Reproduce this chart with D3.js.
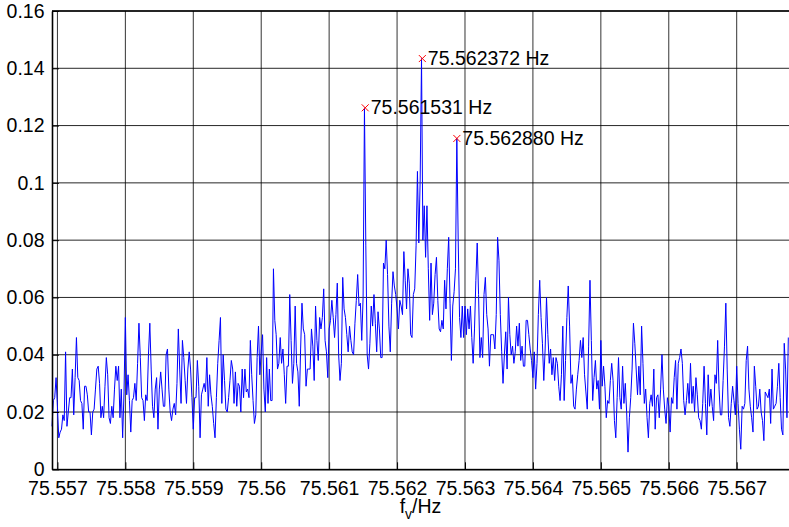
<!DOCTYPE html>
<html>
<head>
<meta charset="utf-8">
<script src="https://cdn.jsdelivr.net/npm/d3@7"></script>
<style>
  html, body { margin: 0; padding: 0; background: #fff; }
  svg { display: block; font-family: "Liberation Sans", Arial, Helvetica, sans-serif; }
</style>
</head>
<body>
<script>
// spectrum bins: f = fStart + i * fStep (Hz)
var fStart = 75.55692;
var fStep = 0.00002;

// amplitude of each bin
var amplitude = [
  0.015, 0.024, 0.025, 0.032, 0.022, 0.011, 0.013, 0.014, 0.019, 0.017,
  0.041, 0.015, 0.020, 0.025, 0.025, 0.035, 0.019, 0.032, 0.046, 0.032,
  0.031, 0.024, 0.023, 0.014, 0.029, 0.029, 0.026, 0.020, 0.020, 0.012,
  0.020, 0.021, 0.028, 0.035, 0.036, 0.030, 0.018, 0.022, 0.018, 0.029,
  0.039, 0.033, 0.018, 0.016, 0.022, 0.018, 0.028, 0.036, 0.031, 0.036,
  0.018, 0.028, 0.011, 0.027, 0.053, 0.026, 0.033, 0.024, 0.013, 0.024,
  0.025, 0.030, 0.024, 0.037, 0.051, 0.039, 0.025, 0.024, 0.017, 0.026,
  0.024, 0.040, 0.051, 0.035, 0.022, 0.018, 0.028, 0.032, 0.014, 0.028,
  0.034, 0.028, 0.022, 0.022, 0.040, 0.042, 0.028, 0.020, 0.017, 0.021,
  0.023, 0.019, 0.030, 0.049, 0.035, 0.023, 0.045, 0.039, 0.031, 0.023,
  0.035, 0.041, 0.035, 0.025, 0.014, 0.025, 0.025, 0.038, 0.029, 0.011,
  0.026, 0.028, 0.030, 0.027, 0.039, 0.022, 0.033, 0.026, 0.022, 0.016,
  0.011, 0.025, 0.037, 0.045, 0.053, 0.023, 0.040, 0.031, 0.021, 0.020,
  0.025, 0.031, 0.038, 0.035, 0.023, 0.034, 0.022, 0.030, 0.029, 0.020,
  0.035, 0.025, 0.035, 0.027, 0.028, 0.025, 0.045, 0.033, 0.024, 0.016,
  0.019, 0.039, 0.050, 0.033, 0.041, 0.047, 0.028, 0.020, 0.039, 0.023,
  0.035, 0.024, 0.024, 0.070, 0.052, 0.047, 0.035, 0.037, 0.046, 0.037,
  0.042, 0.033, 0.023, 0.036, 0.036, 0.061, 0.045, 0.030, 0.037, 0.057,
  0.037, 0.034, 0.022, 0.042, 0.058, 0.049, 0.047, 0.029, 0.035, 0.035,
  0.035, 0.049, 0.043, 0.031, 0.057, 0.045, 0.038, 0.053, 0.049, 0.053,
  0.063, 0.045, 0.041, 0.032, 0.049, 0.052, 0.059, 0.053, 0.046, 0.054,
  0.065, 0.040, 0.031, 0.037, 0.067, 0.056, 0.053, 0.047, 0.041, 0.050,
  0.045, 0.041, 0.040, 0.051, 0.059, 0.068, 0.057, 0.058, 0.045, 0.060,
  0.1262, 0.078, 0.040, 0.035, 0.044, 0.057, 0.050, 0.061, 0.051, 0.041,
  0.055, 0.049, 0.039, 0.039, 0.072, 0.070, 0.080, 0.068, 0.050, 0.041,
  0.058, 0.069, 0.064, 0.061, 0.056, 0.049, 0.059, 0.057, 0.054, 0.076,
  0.066, 0.056, 0.070, 0.065, 0.047, 0.046, 0.061, 0.063, 0.078, 0.104,
  0.079, 0.101, 0.1434, 0.080, 0.092, 0.074, 0.092, 0.070, 0.052, 0.072,
  0.054, 0.058, 0.068, 0.074, 0.059, 0.049, 0.048, 0.052, 0.049, 0.066,
  0.056, 0.070, 0.081, 0.058, 0.038, 0.057, 0.062, 0.070, 0.1155, 0.080,
  0.053, 0.046, 0.057, 0.046, 0.057, 0.047, 0.056, 0.049, 0.057, 0.046,
  0.037, 0.049, 0.066, 0.079, 0.061, 0.039, 0.046, 0.039, 0.061, 0.067,
  0.054, 0.049, 0.036, 0.047, 0.047, 0.047, 0.042, 0.054, 0.081, 0.073,
  0.054, 0.041, 0.030, 0.040, 0.048, 0.035, 0.060, 0.047, 0.040, 0.043,
  0.037, 0.041, 0.050, 0.043, 0.051, 0.038, 0.043, 0.036, 0.036, 0.052,
  0.052, 0.047, 0.042, 0.038, 0.032, 0.041, 0.028, 0.037, 0.054, 0.066,
  0.053, 0.044, 0.031, 0.042, 0.060, 0.047, 0.037, 0.042, 0.033, 0.039,
  0.031, 0.039, 0.037, 0.029, 0.024, 0.033, 0.050, 0.024, 0.038, 0.053,
  0.064, 0.050, 0.030, 0.033, 0.022, 0.021, 0.028, 0.033, 0.038, 0.045,
  0.039, 0.046, 0.033, 0.027, 0.021, 0.043, 0.066, 0.045, 0.024, 0.032,
  0.038, 0.028, 0.031, 0.021, 0.045, 0.029, 0.036, 0.029, 0.018, 0.024,
  0.023, 0.031, 0.037, 0.031, 0.017, 0.011, 0.025, 0.039, 0.025, 0.021,
  0.036, 0.023, 0.030, 0.020, 0.006, 0.018, 0.025, 0.035, 0.051, 0.044,
  0.035, 0.026, 0.036, 0.026, 0.050, 0.037, 0.023, 0.028, 0.018, 0.011,
  0.023, 0.026, 0.022, 0.035, 0.014, 0.025, 0.026, 0.018, 0.028, 0.040,
  0.028, 0.021, 0.016, 0.025, 0.022, 0.013, 0.025, 0.023, 0.032, 0.038,
  0.021, 0.037, 0.039, 0.042, 0.037, 0.024, 0.019, 0.024, 0.030, 0.023,
  0.037, 0.023, 0.029, 0.020, 0.032, 0.026, 0.018, 0.017, 0.014, 0.023,
  0.036, 0.023, 0.012, 0.033, 0.022, 0.028, 0.022, 0.017, 0.033, 0.030,
  0.045, 0.028, 0.019, 0.019, 0.031, 0.043, 0.058, 0.035, 0.018, 0.015,
  0.023, 0.029, 0.024, 0.019, 0.036, 0.023, 0.014, 0.007, 0.022, 0.021,
  0.023, 0.038, 0.043, 0.028, 0.022, 0.018, 0.013, 0.036, 0.029, 0.021,
  0.022, 0.028, 0.020, 0.017, 0.010, 0.027, 0.026, 0.025, 0.028, 0.016,
  0.035, 0.021, 0.022, 0.023, 0.029, 0.037, 0.025, 0.014, 0.012, 0.044,
  0.035, 0.018, 0.046
];

// marked peaks
var peakFreq = [75.561531, 75.562372, 75.562880];
var peakAmp = [0.1262, 0.1434, 0.1155];
var peakLabel = ["75.561531 Hz", "75.562372 Hz", "75.562880 Hz"];

// ticks
var xTicks = [75.557, 75.558, 75.559, 75.560, 75.561, 75.562, 75.563, 75.564, 75.565, 75.566, 75.567];
var xTickLabels = ["75.557", "75.558", "75.559", "75.56", "75.561", "75.562", "75.563", "75.564", "75.565", "75.566", "75.567"];
var yTicks = [0, 0.02, 0.04, 0.06, 0.08, 0.1, 0.12, 0.14, 0.16];
var yTickLabels = ["0", "0.02", "0.04", "0.06", "0.08", "0.1", "0.12", "0.14", "0.16"];

var W = 789, H = 527;
var plotL = 52, plotR = 789, plotT = 11, plotB = 469.3;
var FONT = 19.5;

var data = amplitude.map(function(a, i) { return { f: fStart + i * fStep, a: a }; });

var x = d3.scaleLinear().domain([75.55692, 75.56777]).range([plotL, plotR]);
var y = d3.scaleLinear().domain([0, 0.16]).range([plotB, plotT]);

var svg = d3.select("body").append("svg")
    .attr("width", W)
    .attr("height", H);

svg.append("rect").attr("width", W).attr("height", H).attr("fill", "#fff");

// grid
var grid = svg.append("g").attr("stroke", "#000").attr("stroke-width", 1);
grid.selectAll(".vg").data(xTicks).enter().append("line")
    .attr("x1", function(d) { return x(d); })
    .attr("x2", function(d) { return x(d); })
    .attr("y1", plotT).attr("y2", plotB)
    .attr("stroke-opacity", 0.8);
grid.selectAll(".hg").data(yTicks).enter().append("line")
    .attr("x1", plotL).attr("x2", plotR)
    .attr("y1", function(d) { return y(d); })
    .attr("y2", function(d) { return y(d); })
    .attr("stroke-opacity", 0.85);

// spectrum
var line = d3.line()
    .x(function(d) { return x(d.f); })
    .y(function(d) { return y(d.a); });

svg.append("path")
    .datum(data)
    .attr("fill", "none")
    .attr("stroke", "#0000ff")
    .attr("stroke-width", 1)
    .attr("stroke-linejoin", "round")
    .attr("d", line);

// axes
var xAxis = svg.append("g")
    .attr("transform", "translate(0," + plotB + ")")
    .call(d3.axisBottom(x).tickValues(xTicks)
      .tickFormat(function(d, i) { return xTickLabels[i]; })
      .tickSizeInner(-7).tickSizeOuter(0).tickPadding(11.5));

var yAxis = svg.append("g")
    .attr("transform", "translate(" + plotL + ",0)")
    .call(d3.axisLeft(y).tickValues(yTicks)
      .tickFormat(function(d, i) { return yTickLabels[i]; })
      .tickSizeInner(-7).tickSizeOuter(0).tickPadding(7.5));

[xAxis, yAxis].forEach(function(g) {
  g.select(".domain").attr("stroke", "#000").attr("stroke-width", 1.6);
  g.selectAll(".tick line").attr("stroke", "#000");
  g.selectAll(".tick text")
    .attr("fill", "#000")
    .style("font-size", FONT + "px")
    .style("font-family", "'Liberation Sans', Arial, Helvetica, sans-serif");
});

// top border
svg.append("line")
    .attr("x1", plotL).attr("x2", plotR)
    .attr("y1", plotT).attr("y2", plotT)
    .attr("stroke", "#000").attr("stroke-width", 1.3);

// x label: f_v/Hz
var xl = svg.append("text")
    .attr("x", (plotL + plotR) / 2)
    .attr("y", 513.3)
    .attr("text-anchor", "middle")
    .style("font-size", FONT + "px");
xl.append("tspan").text("f");
xl.append("tspan").attr("dy", 6).style("font-size", "14px").text("v");
xl.append("tspan").attr("dy", -6).text("/Hz");

// peak markers and labels
var peaks = peakFreq.map(function(f, i) { return { f: f, a: peakAmp[i], label: peakLabel[i] }; });
var pk = svg.append("g").selectAll("g").data(peaks).enter().append("g")
    .attr("transform", function(d) { return "translate(" + x(d.f) + "," + y(d.a) + ")"; });

pk.append("path")
    .attr("d", "M-3.5,-3.5L3.5,3.5M-3.5,3.5L3.5,-3.5")
    .attr("stroke", "#ff0000")
    .attr("stroke-width", 1);

pk.append("text")
    .attr("x", 5.5)
    .attr("dy", "0.34em")
    .style("font-size", FONT + "px")
    .text(function(d) { return d.label; });
</script>
</body>
</html>
